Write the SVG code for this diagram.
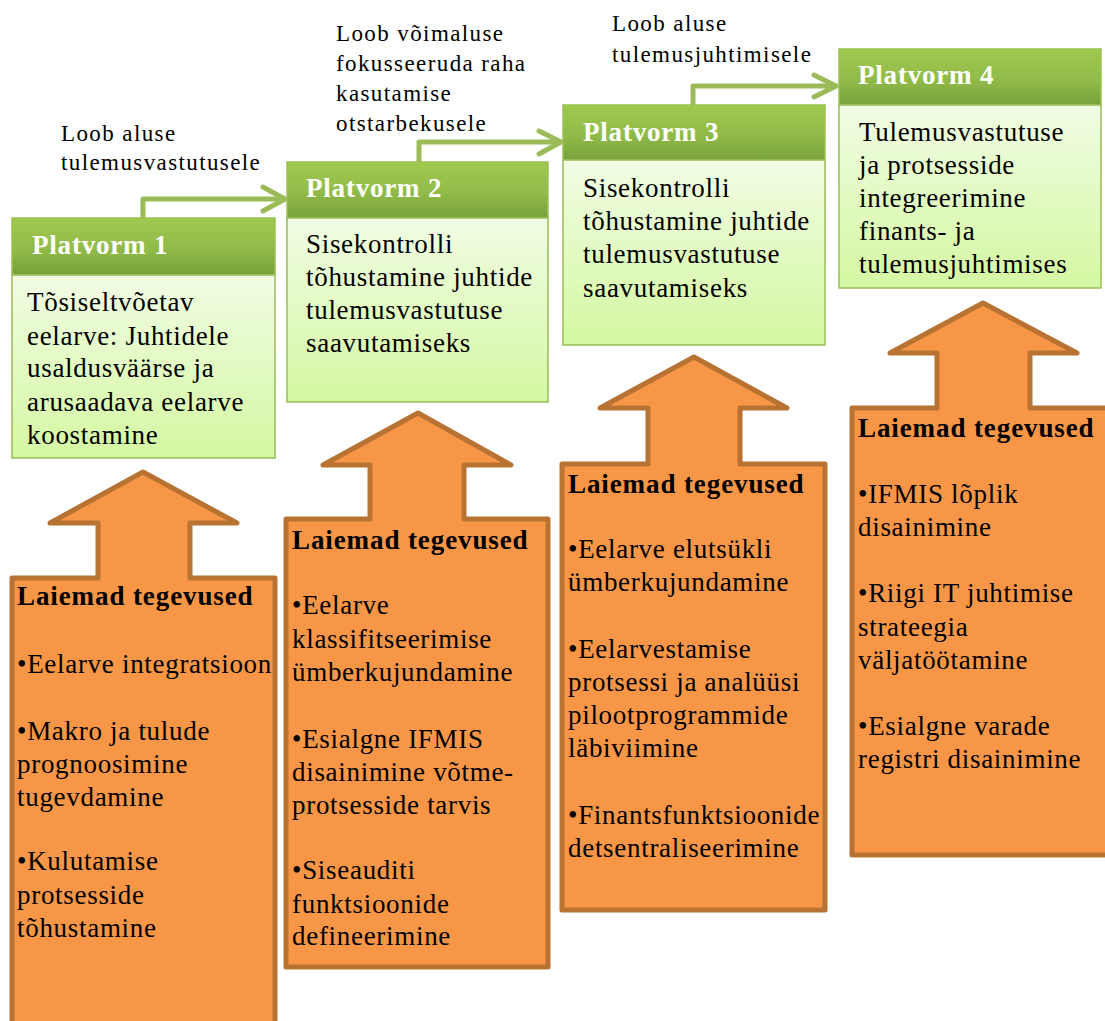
<svg xmlns="http://www.w3.org/2000/svg" width="1105" height="1021" viewBox="0 0 1105 1021" font-family="'Liberation Serif', 'Times New Roman', Tinos, serif">
  <defs>
    <linearGradient id="hdr" x1="0" y1="0" x2="0" y2="1">
      <stop offset="0" stop-color="#9fc84f"/>
      <stop offset="0.5" stop-color="#93bd4a"/>
      <stop offset="1" stop-color="#77a23a"/>
    </linearGradient>
    <linearGradient id="body" x1="0" y1="0" x2="0" y2="1">
      <stop offset="0" stop-color="#f1fce3"/>
      <stop offset="1" stop-color="#d4f8a2"/>
    </linearGradient>
    <style>
      .hdr { fill: url(#hdr); stroke: #9bc253; stroke-width: 1.5; }
      .body { fill: url(#body); stroke: #9bbb59; stroke-width: 1.5; }
      .up { fill: #f79646; stroke: #b87333; stroke-width: 5; stroke-linejoin: round; }
      .conn { fill: none; stroke: #9bbb59; stroke-width: 5; stroke-linejoin: round; stroke-linecap: round; }
      text { fill: #000; }
      .lbl { font-size: 23px; letter-spacing: 1.4px; }
      .ttl { font-size: 27px; font-weight: bold; fill: #fff; letter-spacing: 0.8px; }
      .txt { font-size: 27px; letter-spacing: 0.7px; }
      .hd { font-size: 27px; font-weight: bold; letter-spacing: 0.9px; }
    </style>
  </defs>

  <!-- connectors between platforms -->
  <g id="connectors">
    <polyline class="conn" points="143,218 143,199 284,199"/>
    <polyline class="conn" points="263,187 285,199 263,211"/>
    <polyline class="conn" points="419,162 419,142 560,142"/>
    <polyline class="conn" points="539,131 561,142 539,154"/>
    <polyline class="conn" points="693,105 693,86 836,86"/>
    <polyline class="conn" points="814,75 836,86 814,97"/>
  </g>

  <!-- connector labels -->
  <g id="labels">
    <text class="lbl" x="61" y="141">Loob aluse</text>
    <text class="lbl" x="61" y="170">tulemusvastutusele</text>
    <text class="lbl" x="336" y="41">Loob võimaluse</text>
    <text class="lbl" x="336" y="71">fokusseeruda raha</text>
    <text class="lbl" x="336" y="101">kasutamise</text>
    <text class="lbl" x="336" y="131">otstarbekusele</text>
    <text class="lbl" x="612" y="31">Loob aluse</text>
    <text class="lbl" x="612" y="62">tulemusjuhtimisele</text>
  </g>

  <!-- platform 1 -->
  <g id="platvorm1">
    <rect class="hdr" x="12" y="218" width="263" height="57"/>
    <rect class="body" x="12" y="275" width="263" height="183"/>
    <text class="ttl" x="32" y="254">Platvorm 1</text>
    <text class="txt" x="27" y="311">Tõsiseltvõetav</text>
    <text class="txt" x="27" y="345">eelarve: Juhtidele</text>
    <text class="txt" x="27" y="377">usaldusväärse ja</text>
    <text class="txt" x="27" y="411">arusaadava eelarve</text>
    <text class="txt" x="27" y="444">koostamine</text>
  </g>

  <!-- platform 2 -->
  <g id="platvorm2">
    <rect class="hdr" x="287" y="162" width="261" height="56"/>
    <rect class="body" x="287" y="218" width="261" height="184"/>
    <text class="ttl" x="306" y="197">Platvorm 2</text>
    <text class="txt" x="306" y="253">Sisekontrolli</text>
    <text class="txt" x="306" y="286">tõhustamine juhtide</text>
    <text class="txt" x="306" y="319">tulemusvastutuse</text>
    <text class="txt" x="306" y="352">saavutamiseks</text>
  </g>

  <!-- platform 3 -->
  <g id="platvorm3">
    <rect class="hdr" x="563" y="105" width="262" height="55"/>
    <rect class="body" x="563" y="160" width="262" height="185"/>
    <text class="ttl" x="583" y="141">Platvorm 3</text>
    <text class="txt" x="583" y="197">Sisekontrolli</text>
    <text class="txt" x="583" y="230">tõhustamine juhtide</text>
    <text class="txt" x="583" y="263">tulemusvastutuse</text>
    <text class="txt" x="583" y="297">saavutamiseks</text>
  </g>

  <!-- platform 4 -->
  <g id="platvorm4">
    <rect class="hdr" x="839" y="49" width="262" height="56"/>
    <rect class="body" x="839" y="105" width="262" height="183"/>
    <text class="ttl" x="858" y="84">Platvorm 4</text>
    <text class="txt" x="859" y="141">Tulemusvastutuse</text>
    <text class="txt" x="859" y="174">ja protsesside</text>
    <text class="txt" x="859" y="207">integreerimine</text>
    <text class="txt" x="859" y="240">finants- ja</text>
    <text class="txt" x="859" y="273">tulemusjuhtimises</text>
  </g>

  <!-- activities 1 -->
  <g id="tegevused1">
    <path class="up" d="M12,578 H98 V523 H50 L143,472 L237,523 H190 V578 H275 V1030 H12 Z"/>
    <text class="hd" x="17" y="605">Laiemad tegevused</text>
    <text class="txt" x="17" y="673">•Eelarve integratsioon</text>
    <text class="txt" x="17" y="740">•Makro ja tulude</text>
    <text class="txt" x="17" y="773">prognoosimine</text>
    <text class="txt" x="17" y="806">tugevdamine</text>
    <text class="txt" x="17" y="870">•Kulutamise</text>
    <text class="txt" x="17" y="904">protsesside</text>
    <text class="txt" x="17" y="937">tõhustamine</text>
  </g>

  <!-- activities 2 -->
  <g id="tegevused2">
    <path class="up" d="M286,519 H370 V465 H323 L418,413 L511,465 H464 V519 H548 V967 H286 Z"/>
    <text class="hd" x="292" y="549">Laiemad tegevused</text>
    <text class="txt" x="292" y="614">•Eelarve</text>
    <text class="txt" x="292" y="648">klassifitseerimise</text>
    <text class="txt" x="292" y="681">ümberkujundamine</text>
    <text class="txt" x="292" y="748">•Esialgne IFMIS</text>
    <text class="txt" x="292" y="781">disainimine võtme-</text>
    <text class="txt" x="292" y="814">protsesside tarvis</text>
    <text class="txt" x="292" y="879">•Siseauditi</text>
    <text class="txt" x="292" y="913">funktsioonide</text>
    <text class="txt" x="292" y="945">defineerimine</text>
  </g>

  <!-- activities 3 -->
  <g id="tegevused3">
    <path class="up" d="M562,464 H648 V408 H600 L694,357 L787,408 H740 V464 H825 V910 H562 Z"/>
    <text class="hd" x="568" y="493">Laiemad tegevused</text>
    <text class="txt" x="568" y="558">•Eelarve elutsükli</text>
    <text class="txt" x="568" y="591">ümberkujundamine</text>
    <text class="txt" x="568" y="658">•Eelarvestamise</text>
    <text class="txt" x="568" y="691">protsessi ja analüüsi</text>
    <text class="txt" x="568" y="724">pilootprogrammide</text>
    <text class="txt" x="568" y="757">läbiviimine</text>
    <text class="txt" x="568" y="824">•Finantsfunktsioonide</text>
    <text class="txt" x="568" y="857">detsentraliseerimine</text>
  </g>

  <!-- activities 4 -->
  <g id="tegevused4">
    <path class="up" d="M852,408 H937 V353 H890 L983,303 L1077,353 H1030 V408 H1110 V855 H852 Z"/>
    <text class="hd" x="858" y="437">Laiemad tegevused</text>
    <text class="txt" x="858" y="503">•IFMIS lõplik</text>
    <text class="txt" x="858" y="536">disainimine</text>
    <text class="txt" x="858" y="602">•Riigi IT juhtimise</text>
    <text class="txt" x="858" y="636">strateegia</text>
    <text class="txt" x="858" y="669">väljatöötamine</text>
    <text class="txt" x="858" y="735">•Esialgne varade</text>
    <text class="txt" x="858" y="768">registri disainimine</text>
  </g>
</svg>
